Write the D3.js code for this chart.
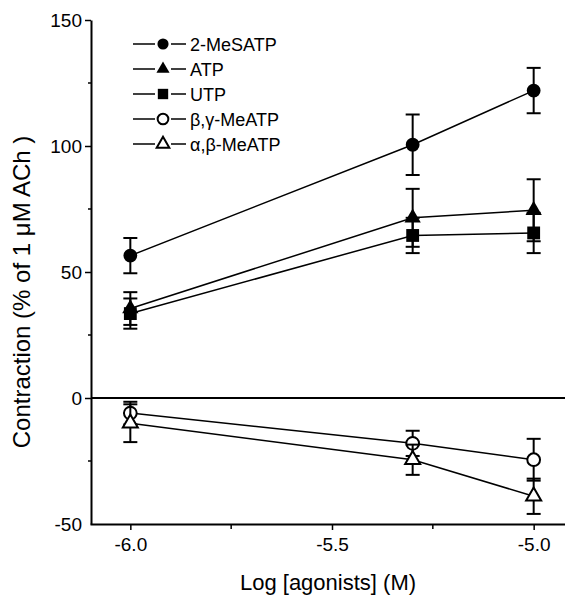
<!DOCTYPE html>
<html lang="en">
<head>
  <meta charset="UTF-8">
  <title>Contraction vs log agonists</title>
  <script src="https://d3js.org/d3.v7.min.js"></script>
  <style>
    body { margin: 0; background: #fff; }
    text { font-family: "Liberation Sans", Arial, sans-serif; fill: #000; }
  </style>
</head>
<body>
<div id="chart"></div>
<script>
// data
var doses = [-6.0, -5.3, -5.0];
var seriesNames = ["2-MeSATP", "ATP", "UTP", "\u03b2,\u03b3-MeATP", "\u03b1,\u03b2-MeATP"];
var mesatp = [56.5, 100.5, 122], mesatpErr = [7, 12, 9];
var atp = [35.5, 71.5, 74.5], atpErr = [6.5, 11.5, 12.3];
var utp = [33.5, 64.5, 65.5], utpErr = [6, 7, 8];
var bgMeatp = [-6, -18, -24.5], bgMeatpErr = [4.5, 5, 8.3];
var abMeatp = [-10, -24.5, -39], abMeatpErr = [7.5, 6, 7];
var xMajor = [-6.0, -5.5, -5.0], xMinor = [-5.75, -5.25];
var yMajor = [-50, 0, 50, 100, 150], yMinor = [-25, 25, 75, 125];

var series = [
  {name: seriesNames[0], vals: mesatp, err: mesatpErr, shape: "circle", filled: true},
  {name: seriesNames[1], vals: atp, err: atpErr, shape: "triangle", filled: true},
  {name: seriesNames[2], vals: utp, err: utpErr, shape: "square", filled: true},
  {name: seriesNames[3], vals: bgMeatp, err: bgMeatpErr, shape: "circle", filled: false},
  {name: seriesNames[4], vals: abMeatp, err: abMeatpErr, shape: "triangle", filled: false}
];

var W = 565, H = 599;
var svg = d3.select("#chart").append("svg").attr("width", W).attr("height", H);

var x = d3.scaleLinear().domain([-6.1, -4.9]).range([90, 574]);
var y = d3.scaleLinear().domain([-50, 150]).range([524, 20]);
var x0 = 91;

// plain hyphen instead of unicode minus
var fmtX = function(d) { return d.toFixed(1); };
var fmtY = function(d) { return String(d); };

// axes
var yAxis = svg.append("g").attr("transform", "translate(" + x0 + ",0)");
yAxis.call(d3.axisLeft(y).tickValues(yMajor).tickFormat(fmtY).tickSize(6).tickSizeOuter(0));
yAxis.select(".domain").attr("stroke-width", 2);
yAxis.selectAll(".tick line").attr("stroke-width", 1.5);
yAxis.selectAll(".tick text").attr("font-size", 19).attr("x", -9);
yAxis.selectAll(".tick").filter(function(d) { return d === -50; }).select("line").remove();
yAxis.selectAll(".minor").data(yMinor).enter().append("line")
  .attr("x1", -3).attr("x2", 0)
  .attr("y1", function(d) { return y(d); }).attr("y2", function(d) { return y(d); })
  .attr("stroke", "#000").attr("stroke-width", 1.5);

var xAxis = svg.append("g").attr("transform", "translate(0," + y(-50) + ")");
xAxis.call(d3.axisBottom(x).tickValues(xMajor).tickFormat(fmtX).tickSize(6).tickSizeOuter(0));
xAxis.select(".domain").attr("stroke-width", 2);
xAxis.selectAll(".tick line").attr("stroke-width", 1.5);
xAxis.selectAll(".tick text").attr("font-size", 19).attr("y", 14);
xAxis.selectAll(".minor").data(xMinor).enter().append("line")
  .attr("x1", function(d) { return x(d); }).attr("x2", function(d) { return x(d); })
  .attr("y1", 0).attr("y2", 5)
  .attr("stroke", "#000").attr("stroke-width", 1.5);

// zero line
svg.append("line")
  .attr("x1", x0).attr("x2", W)
  .attr("y1", y(0)).attr("y2", y(0))
  .attr("stroke", "#000").attr("stroke-width", 2);

// axis titles
svg.append("text")
  .attr("transform", "translate(30," + 292 + ") rotate(-90)")
  .attr("text-anchor", "middle").attr("font-size", 24)
  .text("Contraction (% of 1 \u03bcM ACh )");
svg.append("text")
  .attr("x", 328).attr("y", 590)
  .attr("text-anchor", "middle").attr("font-size", 22)
  .text("Log [agonists] (M)");

function symbolFor(shape, scale) {
  var t = shape === "circle" ? d3.symbolCircle : shape === "triangle" ? d3.symbolTriangle : d3.symbolSquare;
  var s = shape === "circle" ? 150 : shape === "triangle" ? 115 : 165;
  return d3.symbol().type(t).size(s * scale)();
}

var line = d3.line()
  .x(function(d, i) { return x(doses[i]); })
  .y(function(d) { return y(d); });

series.forEach(function(s) {
  var g = svg.append("g");
  g.append("path").attr("d", line(s.vals))
    .attr("fill", "none").attr("stroke", "#000").attr("stroke-width", 1.5);

  var pts = s.vals.map(function(v, i) { return {x: doses[i], v: v, e: s.err[i]}; });
  var eb = g.selectAll(".eb").data(pts).enter().append("g");
  eb.append("line")
    .attr("x1", function(d) { return x(d.x); }).attr("x2", function(d) { return x(d.x); })
    .attr("y1", function(d) { return y(d.v + d.e); }).attr("y2", function(d) { return y(d.v - d.e); })
    .attr("stroke", "#000").attr("stroke-width", 2);
  [1, -1].forEach(function(sgn) {
    eb.append("line")
      .attr("x1", function(d) { return x(d.x) - 7; }).attr("x2", function(d) { return x(d.x) + 7; })
      .attr("y1", function(d) { return y(d.v + sgn * d.e); }).attr("y2", function(d) { return y(d.v + sgn * d.e); })
      .attr("stroke", "#000").attr("stroke-width", 2);
  });

  g.selectAll(".pt").data(pts).enter().append("path")
    .attr("d", symbolFor(s.shape, s.filled ? 1 : 0.85))
    .attr("transform", function(d) { return "translate(" + x(d.x) + "," + y(d.v) + ")"; })
    .attr("fill", s.filled ? "#000" : "#fff")
    .attr("stroke", "#000").attr("stroke-width", s.filled ? 0 : 2);
});

// legend
var legend = svg.append("g").attr("transform", "translate(133,44)");
series.forEach(function(s, i) {
  var row = legend.append("g").attr("transform", "translate(0," + i * 25 + ")");
  row.append("line").attr("x1", 0).attr("x2", 22).attr("y1", 0).attr("y2", 0)
    .attr("stroke", "#000").attr("stroke-width", 1.5);
  row.append("line").attr("x1", 38).attr("x2", 53).attr("y1", 0).attr("y2", 0)
    .attr("stroke", "#000").attr("stroke-width", 1.5);
  row.append("path").attr("d", symbolFor(s.shape, s.filled ? 0.65 : 0.6))
    .attr("transform", "translate(30,0)")
    .attr("fill", s.filled ? "#000" : "#fff")
    .attr("stroke", "#000").attr("stroke-width", s.filled ? 0 : 2);
  row.append("text").attr("x", 57).attr("y", 6.5).attr("font-size", 18).text(s.name);
});
</script>
</body>
</html>
